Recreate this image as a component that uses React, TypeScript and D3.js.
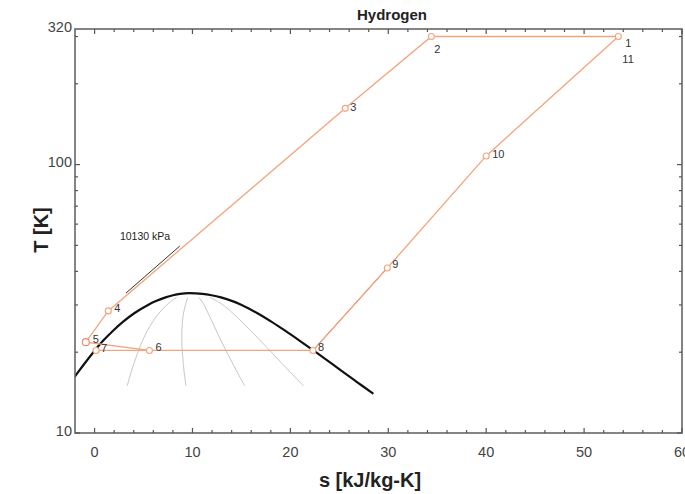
import { useEffect, useRef } from 'react';
import * as d3 from 'd3';

// state points of the cycle
const stateNames = ['1', '2', '3', '4', '5', '6', '7', '8', '9', '10', '11'];
const stateS = [53.5, 34.4, 25.6, 1.4, -0.9, 5.6, 0.15, 22.3, 29.9, 40.0, 53.5];
const stateT = [300, 300, 162, 28.5, 21.8, 20.3, 20.3, 20.3, 41.2, 107.7, 300];

// process lines, as indexes into the state arrays
const processPaths = [
  [0, 1, 2, 3, 4, 5],
  [6, 5, 7],
  [7, 8, 9, 10],
];

// saturation dome
const satT = [14, 15, 16, 17, 18, 20, 22, 24, 26, 28, 30, 31, 32, 32.6, 33, 33.2];
const satSLiq = [-3.23, -2.66, -2.13, -1.61, -1.1, -0.12, 0.84, 1.86, 2.92, 4.09, 5.46, 6.27, 7.25, 8.02, 8.74, 9.64];
const satSVap = [28.47, 27.33, 26.26, 25.26, 24.33, 22.6, 21.0, 19.5, 18.05, 16.59, 15.02, 14.08, 12.91, 11.95, 11.03, 9.64];

// quality lines drawn inside the dome
const qualities = [0.2, 0.4, 0.6, 0.8];

// piece of the 10130 kPa isobar
const isobarS = [3.2, 8.7];
const isobarT = [33.2, 49.7];
const isobarLabel = '10130 kPa';

// low pressure isobar under 8-9
const lowIsobarS = [22.3, 29.9];
const lowIsobarT = [20.3, 41.2];

const xTicks = [0, 10, 20, 30, 40, 50, 60];
const yTickLabels = [10, 100, 320];

// label offsets (px) beside each marker
const labelOffsets: Record<string, [number, number]> = {
  '1': [7, 8], '2': [3, 14], '3': [5, 0], '4': [6, -2], '5': [7, -2],
  '6': [6, -2], '7': [5, -1], '8': [5, -2], '9': [5, -3], '10': [6, -1], '11': [4, 24],
};

const ORANGE = '#f2a47c';
const FONT = 'Liberation Sans, Arial, sans-serif';

function TsChart() {
  const svgRef = useRef<SVGSVGElement>(null);

  useEffect(() => {
    const left = 75, right = 682, top = 29, bottom = 433;
    const svg = d3.select(svgRef.current);
    svg.selectAll('*').remove();

    const x = d3.scaleLinear().domain([-2, 60]).range([left, right]);
    const y = d3.scaleLog().domain([10, 320]).range([bottom, top]);

    svg.append('defs').append('clipPath').attr('id', 'plotClip')
      .append('rect')
      .attr('x', left).attr('y', top)
      .attr('width', right - left).attr('height', bottom - top);

    const plot = svg.append('g').attr('clip-path', 'url(#plotClip)');
    const line = d3.line<[number, number]>()
      .x(d => x(d[0]))
      .y(d => y(d[1]));

    // quality lines
    const qRows = satT.slice(1, 13).map((t, i) => ({ t, sl: satSLiq[i + 1], sv: satSVap[i + 1] }));
    qualities.forEach(q => {
      const pts = qRows.map(r => [r.sl + q * (r.sv - r.sl), r.t] as [number, number]);
      plot.append('path')
        .attr('d', line.curve(d3.curveMonotoneY)(pts))
        .attr('fill', 'none')
        .attr('stroke', '#c8c8c8')
        .attr('stroke-width', 1);
    });

    // dome
    const liq = satT.map((t, i) => [satSLiq[i], t] as [number, number]);
    const vap = satT.map((t, i) => [satSVap[i], t] as [number, number]).reverse().slice(1);
    plot.append('path')
      .attr('d', line.curve(d3.curveMonotoneX)([...liq, ...vap]))
      .attr('fill', 'none')
      .attr('stroke', '#111')
      .attr('stroke-width', 2.2);

    // isobars
    plot.append('path')
      .attr('d', line.curve(d3.curveLinear)(isobarS.map((s, i) => [s, isobarT[i]] as [number, number])))
      .attr('fill', 'none')
      .attr('stroke', '#333')
      .attr('stroke-width', 1);
    plot.append('path')
      .attr('d', line.curve(d3.curveLinear)(lowIsobarS.map((s, i) => [s, lowIsobarT[i]] as [number, number])))
      .attr('fill', 'none')
      .attr('stroke', '#555')
      .attr('stroke-width', 1);

    svg.append('text')
      .attr('x', x(isobarS[0]) - 6)
      .attr('y', y(isobarT[1]) - 6)
      .attr('font-family', FONT)
      .attr('font-size', 10.5)
      .attr('fill', '#222')
      .text(isobarLabel);

    // cycle
    processPaths.forEach(idx => {
      plot.append('path')
        .attr('d', line.curve(d3.curveLinear)(idx.map(i => [stateS[i], stateT[i]] as [number, number])))
        .attr('fill', 'none')
        .attr('stroke', ORANGE)
        .attr('stroke-width', 1.3);
    });

    stateNames.forEach((name, i) => {
      if (name !== '11') {
        svg.append('circle')
          .attr('cx', x(stateS[i]))
          .attr('cy', y(stateT[i]))
          .attr('r', name === '5' ? 3.5 : 3)
          .attr('fill', '#fff')
          .attr('stroke', name === '5' ? '#ea8a68' : ORANGE)
          .attr('stroke-width', 1.1);
      }
      const [dx, dy] = labelOffsets[name];
      svg.append('text')
        .attr('x', x(stateS[i]) + dx)
        .attr('y', y(stateT[i]) + dy)
        .attr('dominant-baseline', 'middle')
        .attr('font-family', FONT)
        .attr('font-size', 11)
        .attr('fill', '#333')
        .text(name);
    });

    // frame
    svg.append('rect')
      .attr('x', left).attr('y', top)
      .attr('width', right - left).attr('height', bottom - top)
      .attr('fill', 'none')
      .attr('stroke', '#666')
      .attr('stroke-width', 1.6);

    const axisG = svg.append('g').attr('stroke', '#555').attr('stroke-width', 1.2);
    // x ticks (bottom and top, inward)
    d3.range(0, 61, 2).forEach(v => {
      const len = v % 10 === 0 ? 5 : 3;
      axisG.append('line').attr('x1', x(v)).attr('x2', x(v)).attr('y1', bottom).attr('y2', bottom - len);
      axisG.append('line').attr('x1', x(v)).attr('x2', x(v)).attr('y1', top).attr('y2', top + len);
    });
    // y ticks (left and right, inward)
    const yMinor = [...d3.range(20, 100, 10), 200, 300];
    [10, 100, ...yMinor].forEach(v => {
      const len = v === 10 || v === 100 ? 5 : 3;
      axisG.append('line').attr('x1', left).attr('x2', left + len).attr('y1', y(v)).attr('y2', y(v));
      axisG.append('line').attr('x1', right).attr('x2', right - len).attr('y1', y(v)).attr('y2', y(v));
    });

    svg.append('g').selectAll('text')
      .data(xTicks)
      .join('text')
      .attr('x', d => x(d))
      .attr('y', bottom + 24)
      .attr('text-anchor', 'middle')
      .attr('font-family', FONT)
      .attr('font-size', 14.5)
      .attr('fill', '#444')
      .text(d => d);

    svg.append('g').selectAll('text')
      .data(yTickLabels)
      .join('text')
      .attr('x', left - 3)
      .attr('y', d => y(d))
      .attr('dy', '0.2em')
      .attr('text-anchor', 'end')
      .attr('font-family', FONT)
      .attr('font-size', 14.5)
      .attr('fill', '#444')
      .text(d => d);

    // titles
    svg.append('text')
      .attr('x', 392)
      .attr('y', 20)
      .attr('text-anchor', 'middle')
      .attr('font-family', FONT)
      .attr('font-weight', 'bold')
      .attr('font-size', 15)
      .attr('fill', '#222')
      .text('Hydrogen');

    svg.append('text')
      .attr('x', 370)
      .attr('y', 487)
      .attr('text-anchor', 'middle')
      .attr('font-family', FONT)
      .attr('font-weight', 'bold')
      .attr('font-size', 20)
      .attr('fill', '#222')
      .text('s [kJ/kg-K]');

    svg.append('text')
      .attr('transform', `translate(48,230) rotate(-90)`)
      .attr('text-anchor', 'middle')
      .attr('font-family', FONT)
      .attr('font-weight', 'bold')
      .attr('font-size', 20)
      .attr('fill', '#222')
      .text('T [K]');
  }, []);

  return <svg ref={svgRef} width={685} height={494} style={{ position: 'absolute', left: 0, top: 0, background: '#fff' }} />;
}

export default function App() {
  return <TsChart />;
}
